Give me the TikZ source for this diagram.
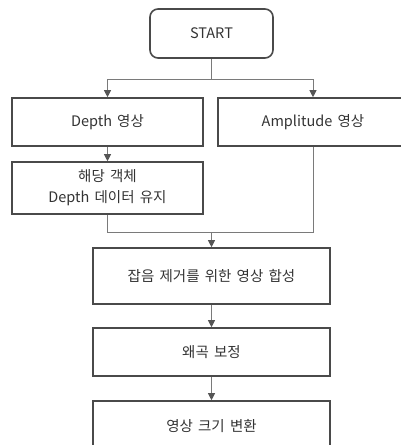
\documentclass[tikz,border=0pt]{standalone}
\usepackage{fontspec}
\setmainfont[WordSpace=1.6]{Noto Sans CJK KR}
\usetikzlibrary{arrows.meta,calc}
\definecolor{boxline}{HTML}{4A4A4A}
\definecolor{conn}{HTML}{7A7A7A}
\definecolor{tipc}{HTML}{555555}
\begin{document}
\begin{tikzpicture}[x=1pt,y=-1pt,
  box/.style={draw=boxline,line width=1.6pt,rectangle,align=center,inner sep=0pt,font=\fontsize{14.5}{21}\selectfont,text=black!80},
  conn/.style={draw=conn,line width=1pt},
  arr/.style={conn,-{Triangle[width=7pt,length=7pt,fill=tipc,color=tipc]}}]
\useasboundingbox (0,0) rectangle (401,445);
\clip (0,0) rectangle (401,445);
\node[box,rounded corners=8pt,minimum width=123pt,minimum height=49pt] (start) at (211.5,33.5) {START};
\node[box,minimum width=191pt,minimum height=48pt] (depth) at (107.5,122) {Depth 영상};
\node[box,minimum width=190pt,minimum height=48pt] (amp) at (313,122) {Amplitude 영상};
\node[box,minimum width=191pt,minimum height=52pt] (keep) at (107.5,188) {해당 객체\\Depth 데이터 유지};
\node[box,minimum width=237pt,minimum height=56pt] (merge) at (211.5,276) {잡음 제거를 위한 영상 합성};
\node[box,minimum width=237pt,minimum height=48pt] (dist) at (211.5,352) {왜곡 보정};
\node[box,minimum width=237pt,minimum height=50pt] (resize) at (211.5,426) {영상 크기 변환};
\coordinate (split) at (211.5,79);
\coordinate (join) at (211.5,232);
\draw[conn] (start.south) -- (split);
\draw[arr] (split) -| (depth.north);
\draw[arr] (split) -| (amp.north);
\draw[arr] (depth.south) -- (keep.north);
\draw[conn] (keep.south) |- (join);
\draw[conn] (amp.south) |- (join);
\draw[arr] (join) -- (merge.north);
\draw[arr] (merge.south) -- (dist.north);
\draw[arr] (dist.south) -- (resize.north);
\end{tikzpicture}
\end{document}
